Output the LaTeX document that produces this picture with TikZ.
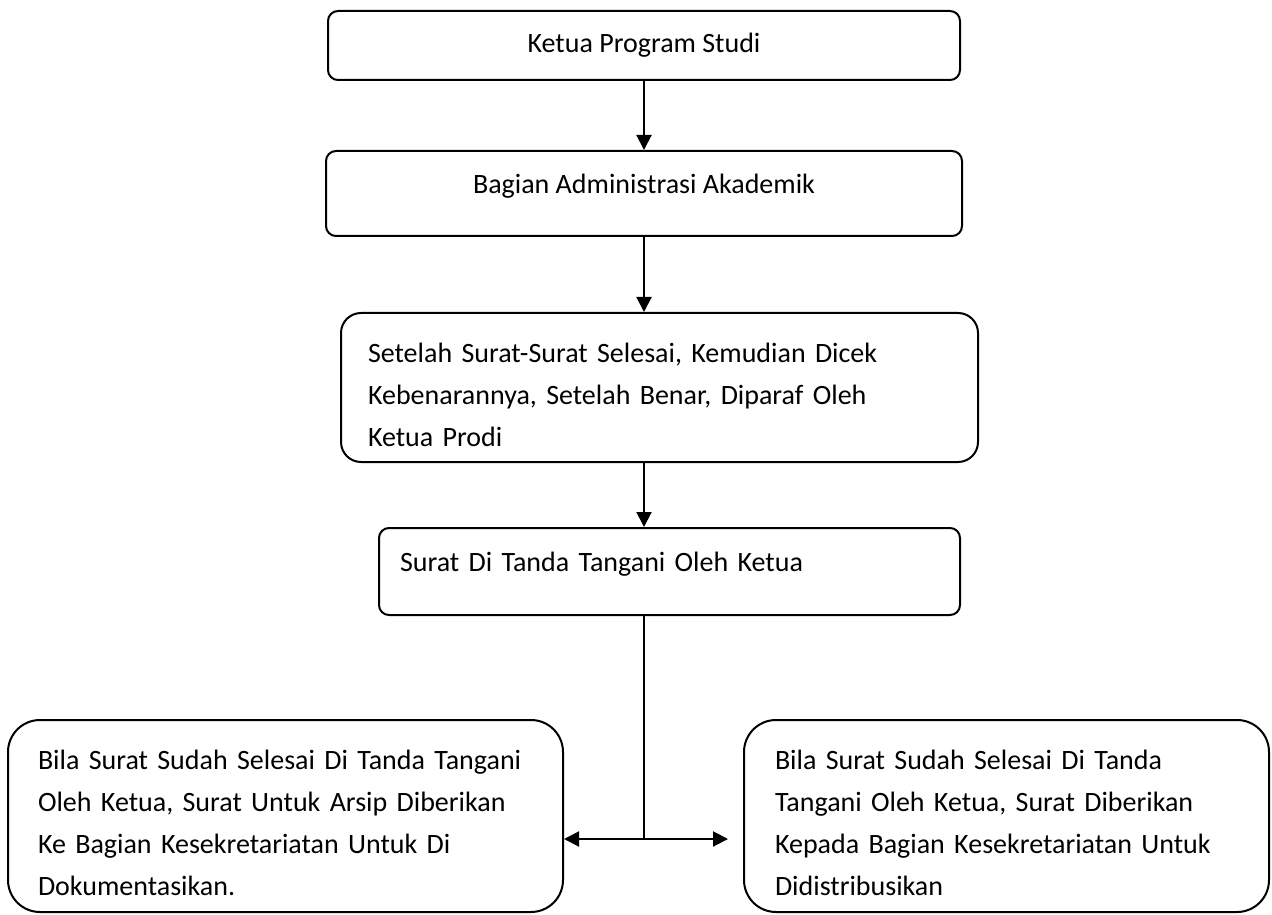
\documentclass[tikz,border=0pt]{standalone}
\usepackage{fontspec}
\setmainfont{Carlito}
\usetikzlibrary{arrows.meta}

\begin{document}
\begin{tikzpicture}[
      x=0.5pt, y=-0.5pt,
      line width=1pt,
      every node/.style={draw, line width=1pt, inner sep=0pt,
        font=\fontsize{14}{21}\selectfont},
      box/.style={rounded corners=5pt, align=center},
      note/.style={rounded corners=#1, align=left},
      lower/.style={execute at begin node={\rule{0pt}{17pt}}},
      flow/.style={-{Triangle[length=7.5pt,width=7.5pt]}},]
    \useasboundingbox (0,0) rectangle (1272,914);
    \node[box, minimum width=316pt, minimum height=34.5pt] (kaprodi) at (644,45.5) {Ketua Program Studi};
    \node[box, minimum width=318pt, minimum height=42.5pt, text height=0pt, text depth=0pt] (admin) at (644,193.5) {Bagian Administrasi Akademik};
    \node[note=10pt, lower, text width=291.5pt, inner xsep=13.5pt, minimum height=74.5pt] (cek) at (659.5,387.5)
      {Setelah Surat-Surat Selesai, Kemudian Dicek\\ Kebenarannya, Setelah Benar, Diparaf Oleh\\ Ketua Prodi};
    \node[note=5pt, text width=269.5pt, inner xsep=10.5pt, minimum height=43.5pt, text height=0pt, text depth=0pt] (ttd) at (669.5,571.5)
      {Surat Di Tanda Tangani Oleh Ketua};
    \node[note=16pt, lower, text width=247.5pt, inner xsep=15pt, minimum height=96pt] (arsip) at (285.5,816)
      {Bila Surat Sudah Selesai Di Tanda Tangani\\ Oleh Ketua, Surat Untuk Arsip Diberikan\\ Ke Bagian Kesekretariatan Untuk Di\\ Dokumentasikan.};
    \node[note=16pt, lower, text width=231.5pt, inner xsep=15.5pt, minimum height=96pt] (distribusi) at (1006.5,816)
      {Bila Surat Sudah Selesai Di Tanda\\ Tangani Oleh Ketua, Surat Diberikan\\ Kepada Bagian Kesekretariatan Untuk\\ Didistribusikan};
    \coordinate (cabang) at (644,839);
    \coordinate (ujung) at (728,839);

    \draw[flow] (kaprodi) -- (admin);
    \draw[flow] (admin.south) -- (admin.south |- cek.north);
    \draw[flow] (admin.south |- cek.south) -- (admin.south |- ttd.north);
    \draw (admin.south |- ttd.south) -- (cabang);
    \draw[flow] (cabang) -- (cabang -| arsip.east);
    \draw[flow] (cabang) -- (ujung);
\end{tikzpicture}
\end{document}
